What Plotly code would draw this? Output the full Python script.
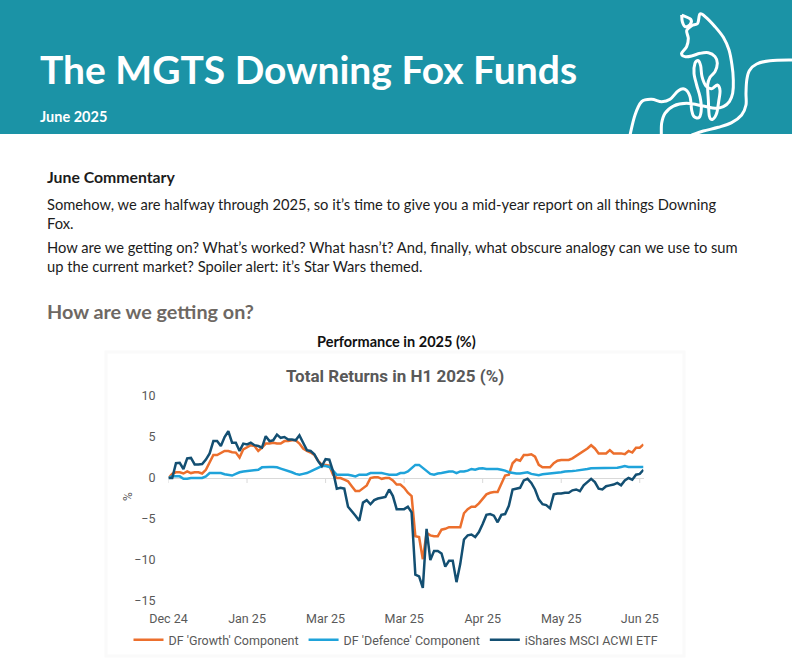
import plotly.graph_objects as go

W, H = 792, 661

# ---------------- data ----------------
days = list(range(128))
tick_days = [0, 21, 42, 63, 84, 105, 126]
tick_labels = ["Dec 24", "Jan 25", "Mar 25", "Mar 25", "Apr 25", "May 25", "Jun 25"]
y_ticks = [-15, -10, -5, 0, 5, 10]

series_names = ["DF 'Growth' Component", "DF 'Defence' Component", "iShares MSCI ACWI ETF"]
series_colors = ["#ec6f2d", "#1fa3da", "#134f72"]

growth = [
    0.0, 0.5, 0.7, 0.7, 0.55, 0.8, 0.6, 0.7, 0.7, 0.55,
    1.0, 1.9, 2.8, 2.8, 3.1, 3.3, 3.3, 3.15, 3.1, 2.5,
    3.5, 3.8, 4.0, 3.9, 3.3, 3.7, 4.2, 4.2, 4.3, 4.2,
    4.2, 4.5, 4.5, 4.6, 4.6, 4.2, 3.6, 3.3, 3.1, 2.8,
    2.1, 1.6, 1.6, 1.5, 0.4, 0.0, 0.0, -0.2, -0.4, -1.0,
    -1.6, -1.6, -1.3, -0.9, 0.0, 0.1, 0.1, -0.1, 0.0, 0.0,
    -0.3, -0.8, -0.8, -1.2, -1.8, -2.2, -7.1, -7.2, -9.9, -6.7,
    -7.0, -7.1, -7.1, -6.3, -6.2, -6.0, -6.0, -6.0, -6.0, -4.3,
    -3.8, -3.5, -3.5, -3.1, -2.6, -2.0, -1.8, -1.7, -1.7, -0.6,
    0.3, 0.4, 1.8, 2.25, 2.1, 2.8, 2.8, 2.9, 2.6, 1.6,
    1.3, 1.3, 1.3, 1.8, 2.1, 2.2, 2.2, 2.2, 2.4, 2.7,
    3.0, 3.2, 3.6, 4.0, 3.6, 3.0, 3.0, 3.0, 3.4, 3.0,
    3.0, 3.0, 2.9, 3.3, 3.1, 3.7, 3.7, 4.1,
]

defence = [
    0.0, 0.2, 0.2, 0.2, -0.1, -0.1, 0.0, 0.0, 0.0, 0.0,
    0.2, 0.6, 0.6, 0.6, 0.6, 0.45, 0.35, 0.3, 0.5, 0.7,
    0.8, 0.85, 0.9, 1.0, 1.0, 1.3, 1.35, 1.35, 1.35, 1.3,
    1.15, 1.0, 0.9, 0.7, 0.5, 0.4, 0.5, 0.6, 0.8, 1.0,
    1.2, 1.45, 1.45, 1.35, 0.9, 0.4, 0.4, 0.4, 0.4, 0.3,
    0.2, 0.4, 0.4, 0.4, 0.6, 0.6, 0.6, 0.6, 0.5, 0.4,
    0.4, 0.4, 0.6, 0.6, 0.8, 1.2, 1.6, 1.6, 1.2, 0.8,
    0.5, 0.4, 0.55, 0.6, 0.7, 0.8, 0.8, 0.6, 0.8, 0.8,
    0.9, 1.1, 1.0, 1.15, 1.2, 1.1, 1.1, 1.1, 1.1, 1.0,
    0.9, 0.7, 0.6, 0.55, 0.55, 0.6, 0.7, 0.5, 0.4, 0.35,
    0.45, 0.5, 0.5, 0.55, 0.6, 0.7, 0.8, 0.8, 0.85, 0.9,
    0.95, 1.0, 1.1, 1.2, 1.2, 1.2, 1.2, 1.2, 1.25, 1.2,
    1.25, 1.35, 1.45, 1.35, 1.35, 1.35, 1.35, 1.35,
]

acwi = [
    0.0, 0.0, 1.8, 1.85, 1.1, 2.4, 2.45, 1.65, 1.65, 1.7,
    2.25, 3.0, 4.5, 4.5, 3.9, 5.0, 5.7, 4.3, 4.3, 3.3,
    4.2, 4.1, 4.3, 4.0, 3.9, 3.7, 5.1, 4.5, 4.6, 5.3,
    4.9, 5.0, 4.7, 4.7, 4.6, 5.2, 4.3, 3.4, 3.3, 2.9,
    2.05, 1.45, 2.3, 2.25, 0.8, -1.3, -1.2, -1.3, -3.5, -4.0,
    -4.6, -5.2, -3.0, -2.7, -3.2, -2.7, -2.5, -2.4, -2.3, -1.4,
    -2.2, -3.8, -3.8, -3.8, -3.5, -4.2, -11.8, -12.0, -13.4, -6.2,
    -10.0, -8.9, -8.9, -9.2, -10.8, -10.1, -10.1, -12.7, -10.5, -7.5,
    -7.0, -6.9, -7.2, -6.6, -5.6, -4.5, -4.4, -4.6, -5.4, -4.5,
    -4.4, -3.4, -1.4, -1.3, -1.2, -0.3, -0.1, -0.6, -1.4, -2.6,
    -3.2, -3.3, -3.7, -2.0, -1.9, -1.9, -1.8, -1.8, -1.5, -1.4,
    -1.6, -0.9, -0.5, -0.1, -0.5, -1.3, -1.4, -1.0, -0.9, -0.8,
    -0.6, -0.9, -0.3, 0.0, -0.2, 0.4, 0.5, 1.0,
]

series_values = [growth, defence, acwi]


# ---------------- helpers (pixel -> paper) ----------------
def px(x):
    return x / W


def py(y):
    return 1 - y / H


def smooth_path(zpts, ox=620, oy=0, s=1 / 3):
    pts = [(px(ox + zx * s), py(oy + zy * s)) for zx, zy in zpts]
    d = f"M{pts[0][0]:.4f},{pts[0][1]:.4f}"
    for k in range(len(pts) - 1):
        p0 = pts[k - 1] if k > 0 else pts[k]
        p1 = pts[k]
        p2 = pts[k + 1]
        p3 = pts[k + 2] if k + 2 < len(pts) else p2
        c1 = (p1[0] + (p2[0] - p0[0]) / 6, p1[1] + (p2[1] - p0[1]) / 6)
        c2 = (p2[0] - (p3[0] - p1[0]) / 6, p2[1] - (p3[1] - p1[1]) / 6)
        d += (f" C{c1[0]:.4f},{c1[1]:.4f} {c2[0]:.4f},{c2[1]:.4f}"
              f" {p2[0]:.4f},{p2[1]:.4f}")
    return d


GREY = "#595959"
TICKFONT = dict(family="Roboto", size=12.5, color=GREY)

fig = go.Figure()
for name, vals, col in zip(series_names, series_values, series_colors):
    fig.add_trace(go.Scatter(
        x=days, y=vals, name=name, mode="lines",
        line=dict(color=col, width=2.5), hoverinfo="skip",
    ))

shapes = []
# header band
shapes.append(dict(type="rect", xref="paper", yref="paper",
                   x0=0, x1=1, y0=py(134), y1=1,
                   fillcolor="#1b93a6", line=dict(width=0), layer="below"))
# very faint frame of chart picture
shapes.append(dict(type="rect", xref="paper", yref="paper",
                   x0=px(106), x1=px(684), y0=py(656), y1=py(352),
                   fillcolor="rgba(0,0,0,0)", line=dict(color="#fafafa", width=3),
                   layer="below"))
# small tick marks under the zero line
for t in tick_days:
    shapes.append(dict(type="line", xref="x", yref="y", ysizemode="pixel",
                       yanchor=0, x0=t, x1=t, y0=0, y1=-5,
                       line=dict(color="#d9d9d9", width=1), layer="below"))

# fox line-art (decoration)
fox_strokes = [
    [(185, 45), (212, 58), (210, 74), (195, 80), (187, 65), (185, 45)],
    [(30, 405), (45, 345), (65, 305), (95, 298), (125, 305), (150, 298),
     (175, 272), (195, 268), (210, 290), (215, 330), (222, 350), (238, 352),
     (244, 325), (240, 290), (230, 255), (222, 220), (225, 190), (235, 182),
     (242, 198), (246, 230), (258, 258), (275, 266), (292, 255), (300, 272),
     (296, 305), (290, 340), (278, 358), (268, 348), (265, 300), (263, 255),
     (270, 232), (285, 215), (292, 190), (285, 170), (265, 158), (240, 160),
     (215, 168), (195, 170), (185, 160), (200, 140), (205, 115), (200, 92),
     (215, 77), (233, 70), (240, 42), (258, 52), (285, 80), (310, 112),
     (327, 150), (336, 195), (340, 240), (338, 280), (328, 305), (310, 320),
     (285, 325), (250, 318), (200, 310), (160, 318), (135, 340), (125, 370),
     (124, 405)],
    [(516, 180), (450, 182), (410, 192), (388, 212), (380, 242), (378, 280),
     (378, 315), (365, 345), (335, 368), (295, 382), (250, 393), (215, 405)],
]
for st in fox_strokes:
    shapes.append(dict(type="path", xref="paper", yref="paper",
                       path=smooth_path(st), line=dict(color="white", width=3)))

BODY = dict(family="Lato", size=14.7, color="#1c1c1c")
ann = []


def text(x, y, s, font, xanchor="left", **kw):
    ann.append(dict(x=px(x), y=py(y), xref="paper", yref="paper", text=s,
                    showarrow=False, xanchor=xanchor, yanchor="middle",
                    font=font, **kw))


text(38, 69, "<b>The MGTS Downing Fox Funds</b>",
     dict(family="Lato", size=39, color="white"))
text(38, 117, "<b>June 2025</b>", dict(family="Lato", size=14.5, color="white"))
text(45, 177, "<b>June Commentary</b>", dict(family="Lato", size=15.8, color="#1c1c1c"))
text(45, 204, "Somehow, we are halfway through 2025, so it\u2019s time to give you a "
              "mid-year report on all things Downing", BODY)
text(45, 223, "Fox.", BODY)
text(45, 247, "How are we getting on? What\u2019s worked? What hasn\u2019t? And, finally, "
              "what obscure analogy can we use to sum", BODY)
text(45, 266, "up the current market? Spoiler alert: it\u2019s Star Wars themed.", BODY)
text(45, 311, "<b>How are we getting on?</b>",
     dict(family="Lato", size=19.8, color="#6e6863"))
text(396, 341, "<b>Performance in 2025 (%)</b>",
     dict(family="Lato", size=14.5, color="#111111"), xanchor="center")
text(395, 376, "<b>Total Returns in H1 2025 (%)</b>",
     dict(family="Roboto", size=17, color=GREY), xanchor="center")
text(128, 497, "%", dict(family="Roboto", size=12, color=GREY),
     xanchor="center", textangle=-90)

fig.update_layout(
    width=W, height=H,
    margin=dict(l=0, r=0, t=0, b=0, pad=0, autoexpand=False),
    paper_bgcolor="white", plot_bgcolor="white",
    shapes=shapes, annotations=ann,
    showlegend=True,
    legend=dict(orientation="h", x=px(396), xanchor="center",
                y=py(640), yanchor="middle",
                font=dict(family="Roboto", size=12.5, color=GREY),
                bgcolor="rgba(0,0,0,0)", itemwidth=30, tracegroupgap=0),
    xaxis=dict(domain=[px(168.5), px(643.5)], range=[0, 127],
               tickmode="array", tickvals=tick_days, ticktext=tick_labels,
               showgrid=False, zeroline=False, showline=False, ticks="",
               tickfont=TICKFONT, ticklabelstandoff=8, fixedrange=True,
               automargin=False),
    yaxis=dict(domain=[py(601), py(396)], range=[-15, 10],
               tickmode="array", tickvals=y_ticks,
               showgrid=False, zeroline=True, zerolinecolor="#d9d9d9",
               zerolinewidth=1, showline=False, ticks="",
               tickfont=TICKFONT, ticklabelstandoff=12, fixedrange=True,
               automargin=False),
)

fig.write_html(
    "out.html",
    config={"displayModeBar": False},
    post_script="document.body.style.margin='0';document.body.style.overflow='hidden';",
)
